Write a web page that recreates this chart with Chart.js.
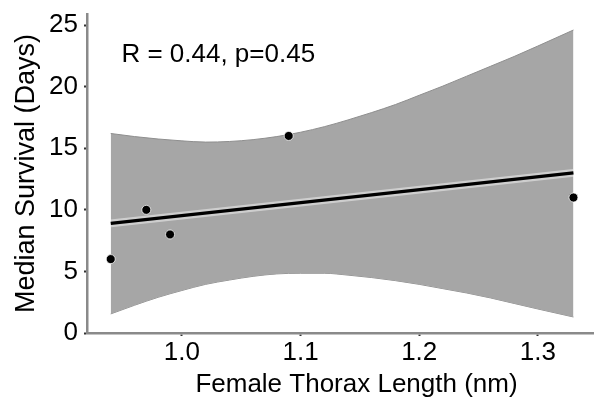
<!DOCTYPE html>
<html>
<head>
<meta charset="utf-8">
<script src="https://cdn.jsdelivr.net/npm/chart.js@4"></script>
<style>
  body { margin: 0; background: #fff; overflow: hidden; }
  #clip { width: 594px; height: 400px; overflow: hidden; position: relative; }
  /* originalet är beskuret till höger, så diagrammet får vara bredare */
  #wrap { width: 626px; height: 400px; position: relative; }
</style>
</head>
<body>
<div id="clip"><div id="wrap"><canvas id="myChart"></canvas></div></div>
<script>
// punkterna
const thoraxLength = [0.94, 0.97, 0.99, 1.09, 1.33];
const medianSurvival = [6, 10, 8, 16, 11];

// regressionslinjen
const fitX = [0.94, 1.33];
const fitY = [8.9, 13.0];

// konfidensbandet (avläst)
const bandX = [0.94, 0.96, 0.98, 1.0, 1.02, 1.04, 1.06, 1.08, 1.1, 1.12, 1.14, 1.16, 1.18, 1.2, 1.22, 1.24, 1.26, 1.28, 1.3, 1.33];
const bandUpper = [16.2, 15.95, 15.75, 15.6, 15.5, 15.55, 15.7, 15.95, 16.3, 16.75, 17.3, 17.9, 18.55, 19.3, 20.05, 20.85, 21.65, 22.45, 23.3, 24.6];
const bandLower = [1.55, 2.25, 2.9, 3.45, 3.95, 4.3, 4.6, 4.8, 4.85, 4.85, 4.7, 4.5, 4.25, 3.95, 3.6, 3.25, 2.85, 2.4, 1.95, 1.3];

const xTicks = [1.0, 1.1, 1.2, 1.3];
const yTicks = [0, 5, 10, 15, 20, 25];

const statText = "R = 0.44, p=0.45";

const fontFamily = "'Liberation Sans', Arial, sans-serif";

function toPoints(xs, ys) {
  return xs.map((x, i) => ({ x: x, y: ys[i] }));
}

const statLabel = {
  id: "statLabel",
  afterDatasetsDraw(chart) {
    const ctx = chart.ctx;
    const x = chart.scales.x.getPixelForValue(0.949);
    const y = chart.scales.y.getPixelForValue(22);
    ctx.save();
    ctx.font = "26px " + fontFamily;
    ctx.fillStyle = "#000";
    ctx.textAlign = "left";
    ctx.textBaseline = "alphabetic";
    ctx.fillText(statText, x, y);
    ctx.restore();
  },
};

const ctx = document.querySelector("#myChart");

new Chart(ctx, {
  type: "scatter",
  data: {
    datasets: [
      {
        label: "points",
        data: toPoints(thoraxLength, medianSurvival),
        backgroundColor: "#000",
        borderColor: "rgba(255,255,255,0.75)",
        borderWidth: 1,
        pointRadius: 4.5,
        showLine: false,
      },
      {
        label: "fit",
        data: toPoints(fitX, fitY),
        borderColor: "#000",
        borderWidth: 3.5,
        pointRadius: 0,
        showLine: true,
        fill: false,
      },
      {
        label: "fit halo",
        data: toPoints(fitX, fitY),
        borderColor: "rgba(255,255,255,0.45)",
        borderWidth: 8,
        pointRadius: 0,
        showLine: true,
        fill: false,
      },
      {
        label: "upper",
        data: toPoints(bandX, bandUpper),
        borderColor: "#8e8e8e",
        borderWidth: 1,
        backgroundColor: "#a6a6a6",
        pointRadius: 0,
        showLine: true,
        cubicInterpolationMode: "monotone",
        fill: "+1",
      },
      {
        label: "lower",
        data: toPoints(bandX, bandLower),
        borderColor: "#8e8e8e",
        borderWidth: 1,
        pointRadius: 0,
        showLine: true,
        cubicInterpolationMode: "monotone",
        fill: false,
      },
    ],
  },
  options: {
    responsive: true,
    maintainAspectRatio: false,
    animation: false,
    layout: { autoPadding: false, padding: { top: 14, right: 0, bottom: 0, left: 0 } },
    plugins: {
      legend: { display: false },
      tooltip: { enabled: false },
    },
    scales: {
      x: {
        type: "linear",
        min: 0.92,
        max: 1.3743,
        afterBuildTicks: (scale) => {
          scale.ticks = xTicks.map((v) => ({ value: v }));
        },
        afterFit: (scale) => {
          scale.height = 67;
          scale.paddingLeft = 0;
          scale.paddingRight = 0;
        },
        border: { display: true, color: "#8a8a8a", width: 2.5 },
        grid: {
          drawOnChartArea: false,
          drawTicks: true,
          tickLength: 3,
          tickWidth: 2,
          tickColor: "#333",
        },
        ticks: {
          color: "#000",
          padding: 1,
          font: { family: fontFamily, size: 26 },
          callback: (v) => Number(v).toFixed(1),
        },
        title: {
          display: true,
          text: "Female Thorax Length (nm)",
          color: "#000",
          font: { family: fontFamily, size: 26 },
          padding: { top: 0, bottom: 0 },
        },
      },
      y: {
        type: "linear",
        min: 0,
        max: 25.9,
        afterBuildTicks: (scale) => {
          scale.ticks = yTicks.map((v) => ({ value: v }));
        },
        afterFit: (scale) => {
          scale.width = 87;
          scale.paddingTop = 0;
          scale.paddingBottom = 0;
        },
        border: { display: true, color: "#8a8a8a", width: 2.5 },
        grid: {
          drawOnChartArea: false,
          drawTicks: true,
          tickLength: 3,
          tickWidth: 2,
          tickColor: "#333",
        },
        ticks: {
          color: "#000",
          padding: 6,
          font: { family: fontFamily, size: 26 },
        },
        title: {
          display: true,
          text: "Median Survival (Days)",
          color: "#000",
          font: { family: fontFamily, size: 27 },
          padding: { top: 10, bottom: 0 },
        },
      },
    },
  },
  plugins: [statLabel],
});
</script>
</body>
</html>
